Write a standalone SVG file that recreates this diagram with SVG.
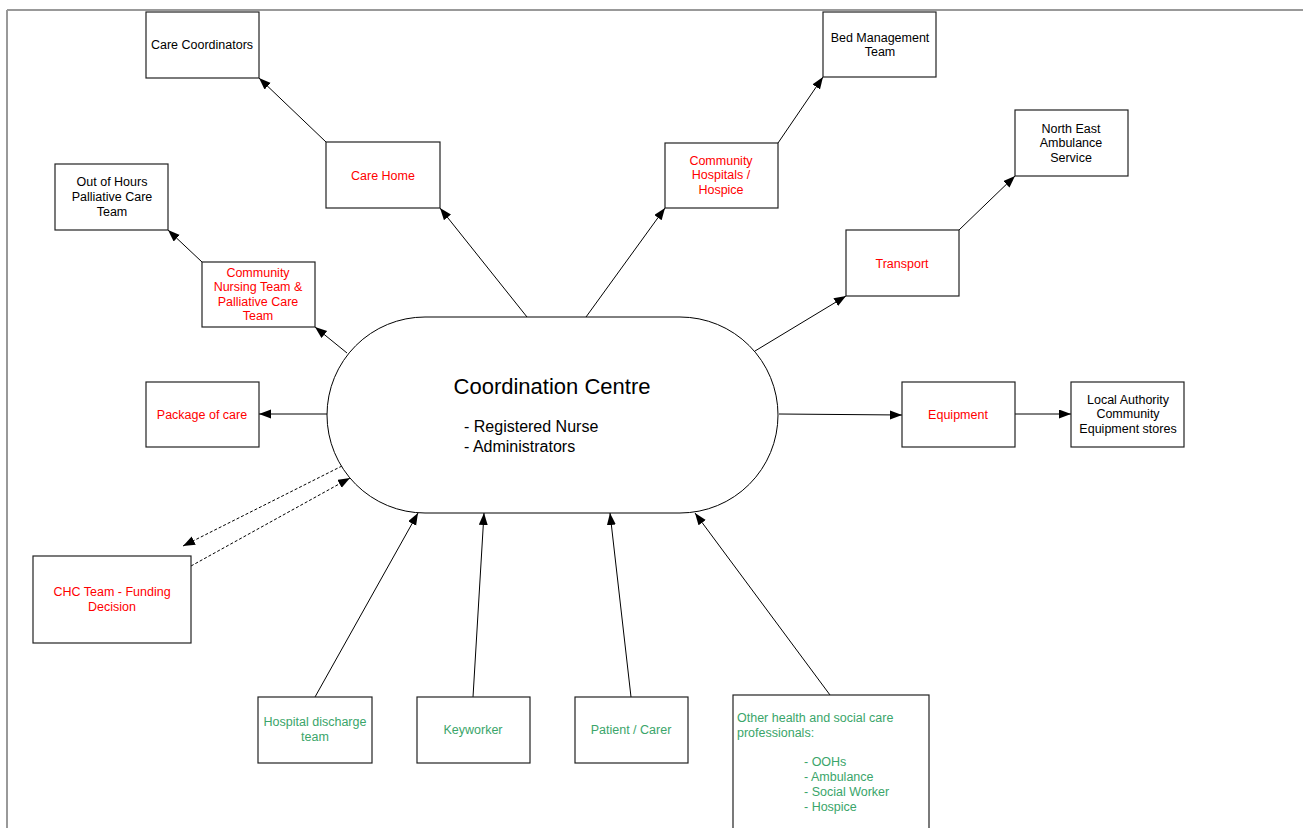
<svg xmlns="http://www.w3.org/2000/svg" width="1304" height="828" viewBox="0 0 1304 828">
<style>
.box{fill:#fff;stroke:#222;stroke-width:1.2}
.t{font-family:"Liberation Sans",Arial,sans-serif;font-size:12.5px;text-anchor:middle;fill:#000}
.l{text-anchor:start}
.red{fill:#ff0000}
.grn{fill:#3aa56a}
.c{stroke:#000;stroke-width:1;fill:none}
.d{stroke:#000;stroke-width:1;fill:none;stroke-dasharray:3,2}
</style>
<defs>
<marker id="ah" markerUnits="userSpaceOnUse" markerWidth="13" markerHeight="10" refX="12" refY="4.5" orient="auto">
<path d="M0,0 L12,4.5 L0,9 z" fill="#000"/>
</marker>
</defs>
<rect width="1304" height="828" fill="#fff"/>
<g id="frame">
<line x1="7" y1="10" x2="1303" y2="10" stroke="#999" stroke-width="2"/>
<line x1="7" y1="10" x2="7" y2="828" stroke="#999" stroke-width="2"/>
</g>
<g id="connectors">
<line class="c" x1="326" y1="142" x2="259" y2="78" marker-end="url(#ah)"/>
<line class="c" x1="527" y1="317" x2="440" y2="208" marker-end="url(#ah)"/>
<line class="c" x1="586" y1="317" x2="665" y2="208" marker-end="url(#ah)"/>
<line class="c" x1="778" y1="143" x2="823" y2="77" marker-end="url(#ah)"/>
<line class="c" x1="755" y1="351" x2="846" y2="296" marker-end="url(#ah)"/>
<line class="c" x1="959" y1="230" x2="1015" y2="176" marker-end="url(#ah)"/>
<line class="c" x1="347" y1="353" x2="315" y2="327" marker-end="url(#ah)"/>
<line class="c" x1="202" y1="262" x2="168" y2="230" marker-end="url(#ah)"/>
<line class="c" x1="327" y1="414" x2="259" y2="414" marker-end="url(#ah)"/>
<line class="c" x1="779" y1="414" x2="902" y2="415" marker-end="url(#ah)"/>
<line class="c" x1="1015" y1="414" x2="1071" y2="414" marker-end="url(#ah)"/>
<line class="d" x1="342" y1="466" x2="183" y2="546" marker-end="url(#ah)"/>
<line class="d" x1="191" y1="566" x2="350" y2="478" marker-end="url(#ah)"/>
<line class="c" x1="315" y1="697" x2="418" y2="513" marker-end="url(#ah)"/>
<line class="c" x1="473" y1="697" x2="484" y2="513" marker-end="url(#ah)"/>
<line class="c" x1="631" y1="697" x2="610" y2="513" marker-end="url(#ah)"/>
<line class="c" x1="830" y1="695" x2="695" y2="513" marker-end="url(#ah)"/>
</g>
<g id="coordination-centre">
<rect x="327" y="317" width="451" height="196" rx="98" ry="98" fill="#fff" stroke="#000" stroke-width="1"/>
<text x="552" y="394" font-family="Liberation Sans,Arial,sans-serif" font-size="22" text-anchor="middle">Coordination Centre</text>
<text x="464" y="431.5" font-family="Liberation Sans,Arial,sans-serif" font-size="16">- Registered Nurse</text>
<text x="464" y="451.5" font-family="Liberation Sans,Arial,sans-serif" font-size="16">- Administrators</text>
</g>
<g id="care-coordinators">
<rect class="box" x="146" y="12" width="113" height="66"/>
<text class="t" x="202" y="48.5">Care Coordinators</text>
</g>
<g id="bed-management">
<rect class="box" x="823" y="12" width="113" height="65"/>
<text class="t" x="880" y="41.5">Bed Management</text>
<text class="t" x="880" y="56">Team</text>
</g>
<g id="neas">
<rect class="box" x="1015" y="110" width="113" height="66"/>
<text class="t" x="1071" y="132.5">North East</text>
<text class="t" x="1071" y="147">Ambulance</text>
<text class="t" x="1071" y="161.5">Service</text>
</g>
<g id="out-of-hours">
<rect class="box" x="55" y="164" width="113" height="66"/>
<text class="t" x="112" y="185.5">Out of Hours</text>
<text class="t" x="112" y="200.5">Palliative Care</text>
<text class="t" x="112" y="215.5">Team</text>
</g>
<g id="care-home">
<rect class="box" x="326" y="142" width="114" height="66"/>
<text class="t red" x="383" y="179.5">Care Home</text>
</g>
<g id="community-hospitals">
<rect class="box" x="665" y="143" width="113" height="65"/>
<text class="t red" x="721" y="164.5">Community</text>
<text class="t red" x="721" y="179">Hospitals /</text>
<text class="t red" x="721" y="193.5">Hospice</text>
</g>
<g id="transport">
<rect class="box" x="846" y="230" width="113" height="66"/>
<text class="t red" x="902" y="267.5">Transport</text>
</g>
<g id="community-nursing">
<rect class="box" x="202" y="262" width="113" height="65"/>
<text class="t red" x="258" y="276.5">Community</text>
<text class="t red" x="258" y="291">Nursing Team &amp;</text>
<text class="t red" x="258" y="305.5">Palliative Care</text>
<text class="t red" x="258" y="320">Team</text>
</g>
<g id="package-of-care">
<rect class="box" x="146" y="382" width="113" height="65"/>
<text class="t red" x="202" y="418.5">Package of care</text>
</g>
<g id="equipment">
<rect class="box" x="902" y="382" width="113" height="65"/>
<text class="t red" x="958" y="418.5">Equipment</text>
</g>
<g id="local-authority">
<rect class="box" x="1071" y="382" width="113" height="65"/>
<text class="t" x="1128" y="403.5">Local Authority</text>
<text class="t" x="1128" y="418">Community</text>
<text class="t" x="1128" y="432.5">Equipment stores</text>
</g>
<g id="chc-team">
<rect class="box" x="33" y="556" width="158" height="87"/>
<text class="t red" x="112" y="595.5">CHC Team - Funding</text>
<text class="t red" x="112" y="610.5">Decision</text>
</g>
<g id="hospital-discharge">
<rect class="box" x="258" y="697" width="114" height="66"/>
<text class="t grn" x="315" y="725.5">Hospital discharge</text>
<text class="t grn" x="315" y="740.5">team</text>
</g>
<g id="keyworker">
<rect class="box" x="417" y="697" width="113" height="66"/>
<text class="t grn" x="473" y="733.5">Keyworker</text>
</g>
<g id="patient-carer">
<rect class="box" x="575" y="697" width="113" height="66"/>
<text class="t grn" x="631" y="733.5">Patient / Carer</text>
</g>
<g id="other-professionals">
<rect class="box" x="733" y="695" width="196" height="145"/>
<text class="t grn l" x="737" y="721.5">Other health and social care</text>
<text class="t grn l" x="737" y="736.5">professionals:</text>
<text class="t grn l" x="804" y="765.5">- OOHs</text>
<text class="t grn l" x="804" y="780.5">- Ambulance</text>
<text class="t grn l" x="804" y="795.5">- Social Worker</text>
<text class="t grn l" x="804" y="810.5">- Hospice</text>
</g>
</svg>
